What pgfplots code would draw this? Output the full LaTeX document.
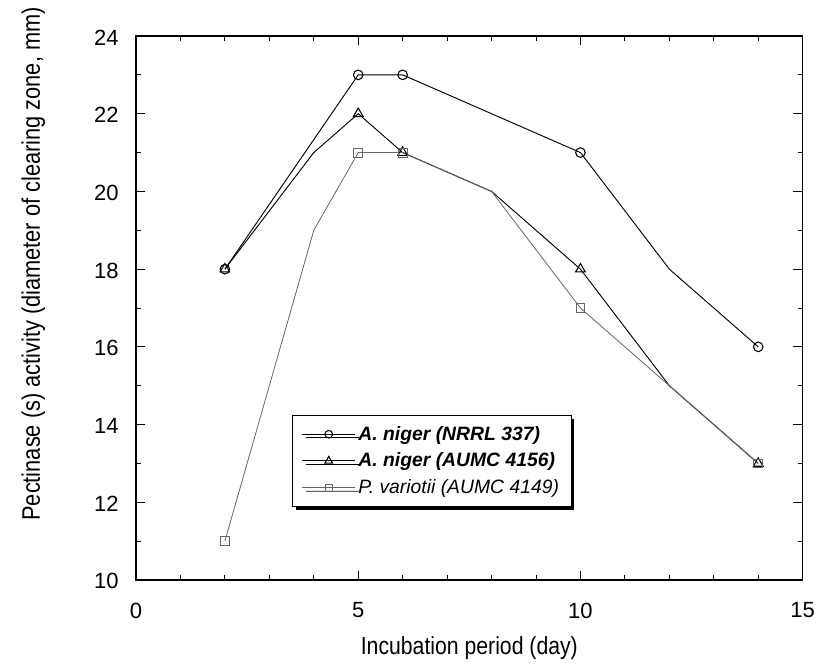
\documentclass[border=0pt]{standalone}
\usepackage{pgfplots}
\pgfplotsset{compat=1.18}
\usetikzlibrary{shadows}
\usepackage{fontspec}
\setmainfont{Liberation Sans}
\newfontfamily\narrow[FakeStretch=0.86]{Liberation Sans}

\begin{document}
\begin{tikzpicture}
\begin{axis}[
  name=ax,
  scale only axis,
  width=500pt, height=408pt,
  xmin=0, xmax=15, ymin=10, ymax=24,
  xtick={0,5,10,15}, minor x tick num=4,
  ytick={10,12,...,24}, minor y tick num=1,
  tick align=inside,
  major tick length=7pt, minor tick length=3.5pt,
  tick style={black, line width=0.7pt},
  axis line style={line width=0.8pt},
  /pgf/number format/assume math mode=true,
  ticklabel style={font=\fontsize{16.5}{18}\selectfont},
  xticklabel style={yshift=-13.5pt},
  yticklabel style={xshift=-9.5pt, yshift=-1pt},
  xlabel={\narrow Incubation period (day)},
  ylabel={\narrow Pectinase (s) activity (diameter of clearing zone, mm)},
  label style={font=\fontsize{18.5}{20}\selectfont},
  xlabel style={at={(axis description cs:0.5,-0.125)}, anchor=center},
  ylabel style={at={(axis description cs:-0.154,0.581)}, anchor=center,
    font=\fontsize{19}{21}\selectfont},
  legend style={at={(axis description cs:0.234,0.303)}, anchor=north west,
    draw=black, line width=0.6pt, fill=white,
    font=\fontsize{14.5}{16}\selectfont\itshape,
    row sep=4pt, inner xsep=7pt, inner ysep=6pt,
    drop shadow={shadow xshift=2.5pt, shadow yshift=-2.5pt, fill=black, opacity=1}},
  legend cell align=left,
  legend image code/.code={
    \draw[#1,mark=none] (0cm,0cm) -- (1.4cm,0cm);
    \draw[#1,mark indices={1},every mark/.append style={scale=0.8}] plot coordinates {(0.7cm,0cm)};},
]
\addplot[black, line width=0.7pt, mark=o, mark size=3.6pt, mark options={fill=white, line width=0.8pt},
  mark indices={1,2,3,5,7}] coordinates {
  (2,18) (5,23) (6,23) (8,22) (10,21) (12,18) (14,16)
};
\addlegendentry{\bfseries A. niger (NRRL 337)}
\addplot[black, line width=0.7pt, mark=triangle, mark size=4.2pt, mark options={fill=white, line width=0.8pt},
  mark indices={1,3,4,6,8}] coordinates {
  (2,18) (4,21) (5,22) (6,21) (8,20) (10,18) (12,15) (14,13)
};
\addlegendentry{\bfseries A. niger (AUMC 4156)}
\addplot[gray!80!black, line width=0.6pt, mark=square, mark size=3.3pt, mark options={fill=white, line width=0.7pt},
  mark indices={1,3,4,6,8}] coordinates {
  (2,11) (4,19) (5,21) (6,21) (8,20) (10,17) (12,15) (14,13)
};
\addlegendentry{P. variotii (AUMC 4149)}
\end{axis}
\pgfresetboundingbox
\path[use as bounding box] ([xshift=-102pt,yshift=-65.25pt]ax.south west) rectangle ([xshift=13pt,yshift=27pt]ax.north east);
\end{tikzpicture}
\end{document}
